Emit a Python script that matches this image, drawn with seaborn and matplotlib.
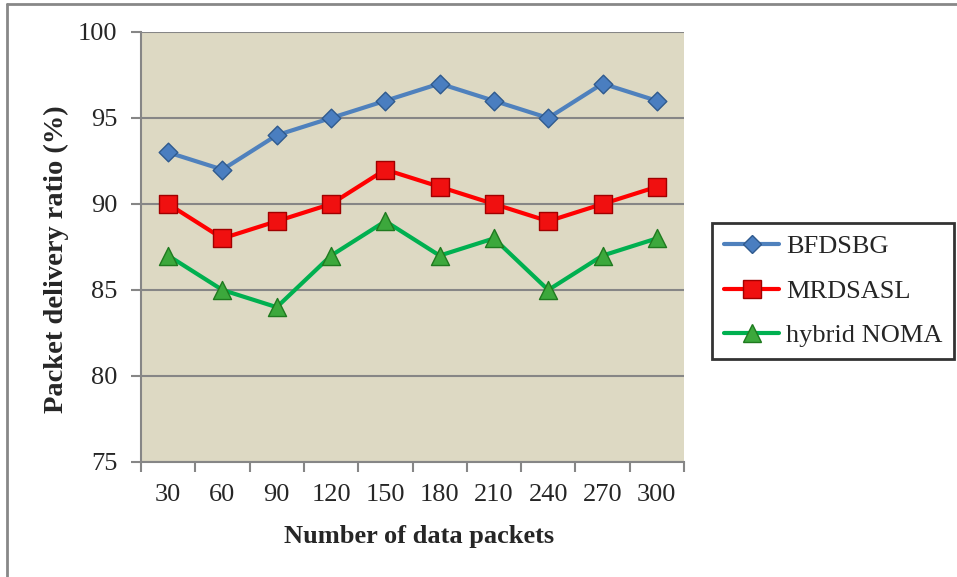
import matplotlib
matplotlib.use("Agg")
import matplotlib.pyplot as plt
from matplotlib.lines import Line2D
from matplotlib.ticker import FixedLocator, NullFormatter, FixedFormatter
import seaborn as sns
import pandas as pd

packets = ["30", "60", "90", "120", "150", "180", "210", "240", "270", "300"]
bfdsbg = [93, 92, 94, 95, 96, 97, 96, 95, 97, 96]
mrdsasl = [90, 88, 89, 90, 92, 91, 90, 89, 90, 91]
hybrid_noma = [87, 85, 84, 87, 89, 87, 88, 85, 87, 88]
series_names = ["BFDSBG", "MRDSASL", "hybrid NOMA"]

rows = []
for name, vals in zip(series_names, [bfdsbg, mrdsasl, hybrid_noma]):
    for i, v in enumerate(vals):
        rows.append({"pos": i, "value": v, "series": name})
df = pd.DataFrame(rows)

sns.set_style("white")
plt.rcParams["font.family"] = ["Liberation Serif", "DejaVu Serif"]

FS = 19

fig = plt.figure(figsize=(9.57, 5.77), dpi=100)
ax = fig.add_axes([141 / 957, (577 - 462) / 577, (684 - 141) / 957, (462 - 32) / 577])
ax.set_facecolor("#DDD9C3")

line_colors = {"BFDSBG": "#4F81BD", "MRDSASL": "#FF0000", "hybrid NOMA": "#00B050"}
marker_faces = {"BFDSBG": "#4A7EC0", "MRDSASL": "#F01010", "hybrid NOMA": "#3CA83C"}
marker_edges = {"BFDSBG": "#2F5A8E", "MRDSASL": "#A00000", "hybrid NOMA": "#1F7A1F"}
markers = {"BFDSBG": "D", "MRDSASL": "s", "hybrid NOMA": "^"}
msizes = {"BFDSBG": 9.5, "MRDSASL": 12.5, "hybrid NOMA": 13}

for name in series_names:
    sub = df[df["series"] == name]
    sns.lineplot(data=sub, x="pos", y="value", ax=ax, color=line_colors[name],
                 linewidth=3, zorder=3, legend=False)
    sns.scatterplot(data=sub, x="pos", y="value", ax=ax, marker=markers[name],
                    color=marker_faces[name], edgecolor=marker_edges[name],
                    s=msizes[name] ** 2, linewidth=1, zorder=4, legend=False)

ax.set_xlim(-0.5, 9.5)
ax.set_ylim(75, 100)
ax.set_yticks([75, 80, 85, 90, 95, 100])
ax.yaxis.grid(True, color="#868686", linewidth=1.5)
ax.set_axisbelow(True)

# category labels at centres, tick marks at the boundaries
ax.xaxis.set_major_locator(FixedLocator([i - 0.5 for i in range(11)]))
ax.xaxis.set_major_formatter(NullFormatter())
ax.xaxis.set_minor_locator(FixedLocator(list(range(10))))
ax.xaxis.set_minor_formatter(FixedFormatter(packets))
ax.tick_params(axis="x", which="major", direction="out", length=7, width=1.5,
               color="#868686", bottom=True)
ax.tick_params(axis="x", which="minor", length=0, labelsize=FS, pad=16, bottom=True)
ax.tick_params(axis="y", direction="out", length=7, width=1.5, color="#868686",
               labelsize=FS, pad=10, left=True)

for s in ["top", "right"]:
    ax.spines[s].set_visible(False)
for s in ["left", "bottom"]:
    ax.spines[s].set_color("#868686")
    ax.spines[s].set_linewidth(1.5)

ax.set_xlabel("Number of data packets", fontsize=FS, fontweight="bold")
ax.set_ylabel("Packet delivery ratio (%)", fontsize=20.5, fontweight="bold")
ax.xaxis.set_label_coords(0.512, -0.174)
ax.yaxis.set_label_coords(-0.155, 0.472)
ax.yaxis.label.set_verticalalignment("center")
ax.xaxis.label.set_verticalalignment("center")

handles = [Line2D([0], [0], color=line_colors[n], linewidth=3, marker=markers[n],
                  markersize=msizes[n], markerfacecolor=marker_faces[n],
                  markeredgecolor=marker_edges[n])
           for n in series_names]
leg = fig.legend(handles, series_names, loc="center left",
                 bbox_to_anchor=(712 / 957, 1 - 291 / 577), fontsize=FS,
                 frameon=True, fancybox=False, edgecolor="black",
                 handlelength=2.1, labelspacing=0.8, borderpad=0.45,
                 handletextpad=0.25, borderaxespad=0)
leg.get_frame().set_linewidth(2)

# outer frame of the figure
fig.add_artist(Line2D([6.5 / 957, 6.5 / 957], [0, 1 - 4 / 577], color="#888888",
                      linewidth=2, transform=fig.transFigure))
fig.add_artist(Line2D([6.5 / 957, 1], [1 - 4 / 577, 1 - 4 / 577], color="#888888",
                      linewidth=2, transform=fig.transFigure))

fig.savefig("out.png", dpi=100, facecolor="white")
